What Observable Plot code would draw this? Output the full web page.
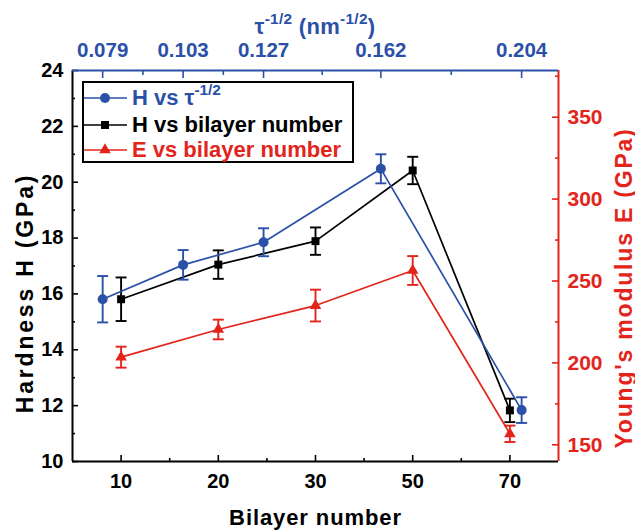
<!DOCTYPE html>
<html>
<head>
<meta charset="utf-8">
<script src="https://cdn.jsdelivr.net/npm/d3@7"></script>
<script src="https://cdn.jsdelivr.net/npm/@observablehq/plot@0.6"></script>
<style>
  body { margin: 0; background: #fff; }
  #chart { position: relative; width: 635px; height: 530px; overflow: hidden;
           font-family: "Liberation Sans", Arial, sans-serif; font-weight: bold; }
  #chart svg.layer { position: absolute; left: 0; top: 0; }
  .title { position: absolute; white-space: nowrap; line-height: 1; }
  .title.top { line-height: 0.95; }
  .title sup, .legend sup { font-size: 0.7em; position: relative; top: -0.1em; vertical-align: super; line-height: 0; }
  .legend { position: absolute; box-sizing: border-box; border: 2px solid #000; background: #fff; }
  .legend .row { position: absolute; left: 0; height: 26px; display: flex; align-items: center; white-space: nowrap; }
  .legend .row svg { display: block; }
  .legend .row span { font-size: 22px; margin-left: 5px; line-height: 1; }
</style>
</head>
<body>
<div id="chart"></div>
<script>
// Bilayer count (bottom axis) and the matching modulation period term tau^-1/2 (top axis)
const bilayers = [10, 20, 30, 50, 70];
const tauValues = [0.079, 0.103, 0.127, 0.162, 0.204];

// Hardness against tau^-1/2 (GPa) with error bars
const hardnessVsTau = [15.81, 17.04, 17.85, 20.48, 11.84];
const hardnessVsTauErr = [0.83, 0.53, 0.50, 0.52, 0.46];

// Hardness against bilayer number (GPa) with error bars
const hardnessVsBilayer = [15.81, 17.05, 17.89, 20.42, 11.83];
const hardnessVsBilayerErr = [0.78, 0.51, 0.49, 0.49, 0.42];

// Young's modulus against bilayer number (GPa) with error bars
const modulusVsBilayer = [203.5, 220.4, 235.0, 256.4, 156.7];
const modulusVsBilayerErr = [6.4, 6.0, 9.7, 8.8, 5.0];

// Axis ticks
const hardnessTicks = [10, 12, 14, 16, 18, 20, 22, 24];
const hardnessMinorTicks = [11, 13, 15, 17, 19, 21, 23];
const modulusTicks = [150, 200, 250, 300, 350];
const modulusMinorTicks = [175, 225, 275, 325, 375];
const tauMinorTicks = [0.091, 0.115, 0.1445, 0.183];

const BLUE = "#2b50a8", RED = "#e3241b", BLACK = "#000000";
const FONT = '"Liberation Sans", Arial, sans-serif';

// Shared frame so the three overlaid layers line up exactly
const frame = {width: 635, height: 530, marginLeft: 72, marginRight: 77, marginTop: 70, marginBottom: 69};

// Bilayer counts are drawn at evenly spaced slots
const slotDomain = [0.5, bilayers.length + 0.5];
const slotMinorTicks = d3.range(1.5, bilayers.length, 1);

// Short horizontal cap for the error bars
const capSymbol = {draw(ctx) { ctx.moveTo(-5.5, 0); ctx.lineTo(5.5, 0); }};

const rowsTau = tauValues.map((t, i) => ({t, v: hardnessVsTau[i], e: hardnessVsTauErr[i]}));
const rowsH = bilayers.map((b, i) => ({slot: i + 1, v: hardnessVsBilayer[i], e: hardnessVsBilayerErr[i]}));
const rowsE = bilayers.map((b, i) => ({slot: i + 1, v: modulusVsBilayer[i], e: modulusVsBilayerErr[i]}));

function seriesMarks(rows, xKey, color, symbol, r) {
  return [
    Plot.line(rows, {x: xKey, y: "v", stroke: color, strokeWidth: 1.7}),
    Plot.ruleX(rows, {x: xKey, y1: d => d.v - d.e, y2: d => d.v + d.e, stroke: color, strokeWidth: 1.9}),
    Plot.dot(rows, {x: xKey, y: d => d.v - d.e, symbol: capSymbol, stroke: color, strokeWidth: 1.9, fill: "none"}),
    Plot.dot(rows, {x: xKey, y: d => d.v + d.e, symbol: capSymbol, stroke: color, strokeWidth: 1.9, fill: "none"}),
    Plot.dot(rows, {x: xKey, y: "v", symbol, r, fill: color, stroke: "none"})
  ];
}

function layerStyle(color) {
  return {background: "transparent", color, fontFamily: FONT, overflow: "visible"};
}

// Layer 1: hardness vs bilayer number, left and bottom axes
const layerH = Plot.plot({
  ...frame,
  style: layerStyle(BLACK),
  x: {type: "linear", domain: slotDomain},
  y: {type: "linear", domain: [10, 24]},
  marks: [
    Plot.axisY({ticks: hardnessTicks, tickSize: -6, tickPadding: 15, strokeWidth: 1.6, fontSize: 20, fontWeight: "bold", label: null}),
    Plot.axisY({ticks: hardnessMinorTicks, tickSize: -3, strokeWidth: 1.6, tickFormat: () => "", label: null}),
    Plot.axisX({ticks: bilayers.map((b, i) => i + 1), tickFormat: s => bilayers[s - 1], tickSize: -6, tickPadding: 18, strokeWidth: 1.6, fontSize: 20, fontWeight: "bold", label: null}),
    Plot.axisX({ticks: slotMinorTicks, tickSize: -3, strokeWidth: 1.6, tickFormat: () => "", label: null}),
    Plot.ruleX([slotDomain[0]], {stroke: BLACK, strokeWidth: 2}),
    Plot.ruleY([10], {stroke: BLACK, strokeWidth: 2}),
    ...seriesMarks(rowsH, "slot", BLACK, "square", 4.5)
  ]
});

// Layer 2: hardness vs tau^-1/2, top axis
const layerTau = Plot.plot({
  ...frame,
  style: layerStyle(BLUE),
  x: {type: "linear", domain: [0.070, 0.215]},
  y: {type: "linear", domain: [10, 24], axis: null},
  marks: [
    Plot.axisX({anchor: "top", ticks: tauValues, tickFormat: d => d.toFixed(3), tickSize: -7, tickPadding: 21, strokeWidth: 1.6, fontSize: 20.5, fontWeight: "bold", label: null}),
    Plot.axisX({anchor: "top", ticks: tauMinorTicks, tickSize: -4, strokeWidth: 1.6, tickFormat: () => "", label: null}),
    Plot.ruleY([24], {stroke: BLUE, strokeWidth: 2}),
    ...seriesMarks(rowsTau, "t", BLUE, "circle", 5)
  ]
});

// Layer 3: Young's modulus vs bilayer number, right axis
const layerE = Plot.plot({
  ...frame,
  style: layerStyle(RED),
  x: {type: "linear", domain: slotDomain, axis: null},
  y: {type: "linear", domain: [139.8, 378.5]},
  marks: [
    Plot.axisY({anchor: "right", ticks: modulusTicks, tickSize: -7, tickPadding: 16, strokeWidth: 1.6, fontSize: 21, fontWeight: "bold", label: null}),
    Plot.axisY({anchor: "right", ticks: modulusMinorTicks, tickSize: -4, strokeWidth: 1.6, tickFormat: () => "", label: null}),
    Plot.ruleX([slotDomain[1]], {stroke: RED, strokeWidth: 2}),
    ...seriesMarks(rowsE, "slot", RED, "triangle", 4.3)
  ]
});

const chart = document.getElementById("chart");
for (const svg of [layerH, layerE, layerTau]) {
  svg.classList.add("layer");
  chart.appendChild(svg);
}

// Axis titles
function addTitle(html, color, size, cx, cy, rotate, spacing, extraClass) {
  const el = document.createElement("div");
  el.className = "title" + (extraClass ? " " + extraClass : "");
  el.innerHTML = html;
  el.style.color = color;
  el.style.fontSize = size + "px";
  el.style.letterSpacing = (spacing || 0) + "px";
  el.style.left = cx + "px";
  el.style.top = cy + "px";
  el.style.transform = `translate(-50%, -50%)${rotate ? " rotate(-90deg)" : ""}`;
  chart.appendChild(el);
}
addTitle("τ<sup>-1/2</sup> (nm<sup>-1/2</sup>)", BLUE, 22, 315, 26.5, false, 0.3, "top");
addTitle("Bilayer number", BLACK, 22, 315.5, 518, false, 0.9);
addTitle("Hardness H (GPa)", BLACK, 23, 24.5, 293, true, 2.8);
addTitle("Young's modulus E (GPa)", RED, 23, 624, 287.5, true, 1.8);

// Legend
const legend = document.createElement("div");
legend.className = "legend";
Object.assign(legend.style, {left: "82px", top: "81px", width: "272px", height: "82px"});
const legendItems = [
  {html: "H vs τ<sup>-1/2</sup>", color: BLUE, symbol: d3.symbolCircle, r: 5},
  {html: "H vs bilayer number", color: BLACK, symbol: d3.symbolSquare, r: 4.5},
  {html: "E vs bilayer number", color: RED, symbol: d3.symbolTriangle, r: 4.3}
];
const rowCenters = [15, 41.5, 67];
legendItems.forEach((item, i) => {
  const row = document.createElement("div");
  row.className = "row";
  row.style.top = (rowCenters[i] - 13) + "px";
  const path = d3.symbol(item.symbol, Math.PI * item.r * item.r)();
  row.innerHTML =
    `<svg width="43" height="26"><line x1="0" y1="13" x2="43" y2="13" stroke="${item.color}" stroke-width="1.6"/>` +
    `<path d="${path}" transform="translate(21,13)" fill="${item.color}"/></svg>` +
    `<span style="color:${item.color}">${item.html}</span>`;
  legend.appendChild(row);
});
chart.appendChild(legend);
</script>
</body>
</html>
